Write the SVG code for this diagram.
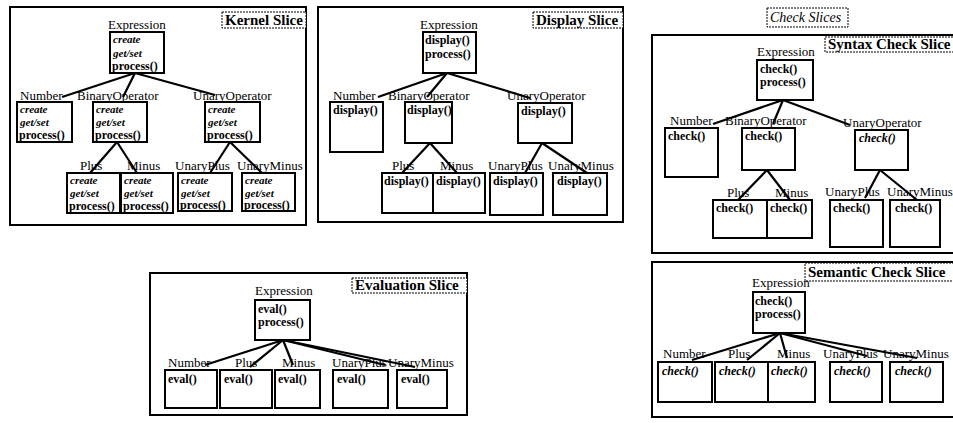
<svg xmlns="http://www.w3.org/2000/svg" width="953" height="423" viewBox="0 0 953 423">
<style>
.frame{fill:none;stroke:#000;stroke-width:2}
.box{fill:#fff;stroke:#000;stroke-width:2}
.tag{fill:#fff;stroke:#000;stroke-width:1;stroke-dasharray:2 1}
.conn line{stroke:#000;stroke-width:2.2}
text{font-family:"Liberation Serif","Times New Roman",serif;fill:#000}
.lbl{font-size:13px}
.m{font-size:12px;font-weight:bold}
.mi{font-size:12px;font-weight:bold;font-style:italic}
.ki{font-size:11px;font-weight:bold;font-style:italic}
.title{font-size:15px;font-weight:bold}
.ititle{font-size:14px;font-style:italic}
</style>
<rect width="953" height="423" fill="#fff"/>

<!-- frames -->
<g id="frames">
<rect class="frame" x="10" y="7" width="296" height="218"/>
<rect class="frame" x="318" y="7" width="305" height="215"/>
<rect class="frame" x="652" y="35" width="310" height="218"/>
<rect class="frame" x="652" y="262" width="310" height="155"/>
<rect class="frame" x="150" y="273" width="317" height="142"/>
</g>

<!-- titles -->
<g id="titles">
<rect class="tag" x="222" y="12" width="84" height="16"/><text class="title" x="225" y="25">Kernel Slice</text>
<rect class="tag" x="533" y="12" width="90" height="16"/><text class="title" x="536" y="25">Display Slice</text>
<rect class="tag" x="767" y="8" width="81" height="19"/><text class="ititle" x="770" y="22">Check Slices</text>
<rect class="tag" x="825" y="37" width="135" height="15"/><text class="title" x="828" y="49">Syntax Check Slice</text>
<rect class="tag" x="805" y="263" width="150" height="18"/><text class="title" x="808" y="277">Semantic Check Slice</text>
<rect class="tag" x="352" y="278" width="115" height="15"/><text class="title" x="355" y="290">Evaluation Slice</text>
</g>

<!-- connectors -->
<g id="connectors" class="conn">
<line x1="135" y1="73" x2="62" y2="97"/>
<line x1="135" y1="73" x2="123" y2="97"/>
<line x1="135" y1="73" x2="215" y2="95"/>
<line x1="117" y1="142" x2="90" y2="173"/>
<line x1="117" y1="142" x2="137" y2="173"/>
<line x1="230" y1="142" x2="210" y2="173"/>
<line x1="230" y1="142" x2="262" y2="173"/>

<line x1="447" y1="73" x2="378" y2="97"/>
<line x1="447" y1="73" x2="427" y2="97"/>
<line x1="447" y1="73" x2="530" y2="98"/>
<line x1="430" y1="143" x2="402" y2="173"/>
<line x1="430" y1="143" x2="457" y2="173"/>
<line x1="542" y1="143" x2="525" y2="173"/>
<line x1="542" y1="143" x2="587" y2="173"/>

<line x1="783" y1="100" x2="713" y2="124"/>
<line x1="783" y1="100" x2="773" y2="124"/>
<line x1="783" y1="100" x2="850" y2="125"/>
<line x1="767" y1="170" x2="738" y2="200"/>
<line x1="767" y1="170" x2="790" y2="200"/>
<line x1="880" y1="170" x2="865" y2="198"/>
<line x1="880" y1="170" x2="917" y2="200"/>

<line x1="780" y1="333" x2="692" y2="360"/>
<line x1="780" y1="333" x2="747" y2="360"/>
<line x1="780" y1="333" x2="787" y2="358"/>
<line x1="780" y1="333" x2="867" y2="356"/>
<line x1="780" y1="333" x2="917" y2="358"/>

<line x1="283" y1="340" x2="205" y2="365"/>
<line x1="283" y1="340" x2="250" y2="367"/>
<line x1="283" y1="340" x2="293" y2="365"/>
<line x1="283" y1="340" x2="385" y2="365"/>
<line x1="283" y1="340" x2="415" y2="367"/>
</g>

<!-- Kernel slice nodes -->
<g id="k-expression"><text class="lbl" x="108" y="29">Expression</text><rect class="box" x="110" y="32" width="54" height="41"/><text class="ki" x="113" y="43">create</text><text class="ki" x="113" y="57">get/set</text><text class="m" x="112" y="70">process()</text></g>
<g id="k-number"><text class="lbl" x="20" y="100">Number</text><rect class="box" x="17" y="102" width="55" height="40"/><text class="ki" x="20" y="113">create</text><text class="ki" x="20" y="126">get/set</text><text class="m" x="19" y="139">process()</text></g>
<g id="k-binary"><text class="lbl" x="77" y="100">BinaryOperator</text><rect class="box" x="93" y="102" width="54" height="40"/><text class="ki" x="96" y="113">create</text><text class="ki" x="96" y="126">get/set</text><text class="m" x="95" y="139">process()</text></g>
<g id="k-unary"><text class="lbl" x="193" y="100">UnaryOperator</text><rect class="box" x="205" y="102" width="55" height="40"/><text class="ki" x="208" y="113">create</text><text class="ki" x="208" y="126">get/set</text><text class="m" x="207" y="139">process()</text></g>
<g id="k-plus"><text class="lbl" x="80" y="170">Plus</text><rect class="box" x="67" y="173" width="53" height="40"/><text class="ki" x="70" y="184">create</text><text class="ki" x="70" y="197">get/set</text><text class="m" x="69" y="210">process()</text></g>
<g id="k-minus"><text class="lbl" x="127" y="170">Minus</text><rect class="box" x="121" y="173" width="52" height="40"/><text class="ki" x="124" y="184">create</text><text class="ki" x="124" y="197">get/set</text><text class="m" x="123" y="210">process()</text></g>
<g id="k-unaryplus"><text class="lbl" x="175" y="170">UnaryPlus</text><rect class="box" x="178" y="173" width="54" height="38"/><text class="ki" x="181" y="184">create</text><text class="ki" x="181" y="197">get/set</text><text class="m" x="180" y="209">process()</text></g>
<g id="k-unaryminus"><text class="lbl" x="237" y="170">UnaryMinus</text><rect class="box" x="242" y="173" width="53" height="38"/><text class="ki" x="245" y="184">create</text><text class="ki" x="245" y="197">get/set</text><text class="m" x="244" y="209">process()</text></g>

<!-- Display slice nodes -->
<g id="d-expression"><text class="lbl" x="420" y="29">Expression</text><rect class="box" x="423" y="32" width="53" height="41"/><text class="m" x="425" y="44">display()</text><text class="m" x="425" y="58">process()</text></g>
<g id="d-number"><text class="lbl" x="333" y="100">Number</text><rect class="box" x="330" y="102" width="53" height="50"/><text class="m" x="333" y="114">display()</text></g>
<g id="d-binary"><text class="lbl" x="388" y="100">BinaryOperator</text><rect class="box" x="405" y="102" width="47" height="41"/><text class="m" x="407" y="114">display()</text></g>
<g id="d-unary"><text class="lbl" x="507" y="100">UnaryOperator</text><rect class="box" x="518" y="103" width="54" height="40"/><text class="m" x="521" y="115">display()</text></g>
<g id="d-plus"><text class="lbl" x="392" y="170">Plus</text><rect class="box" x="382" y="173" width="51" height="40"/><text class="m" x="384" y="185">display()</text></g>
<g id="d-minus"><text class="lbl" x="440" y="170">Minus</text><rect class="box" x="433" y="173" width="52" height="40"/><text class="m" x="436" y="185">display()</text></g>
<g id="d-unaryplus"><text class="lbl" x="488" y="170">UnaryPlus</text><rect class="box" x="490" y="173" width="53" height="42"/><text class="m" x="493" y="185">display()</text></g>
<g id="d-unaryminus"><text class="lbl" x="548" y="170">UnaryMinus</text><rect class="box" x="553" y="173" width="54" height="42"/><text class="m" x="557" y="185">display()</text></g>

<!-- Syntax check slice nodes -->
<g id="s-expression"><text class="lbl" x="757" y="56">Expression</text><rect class="box" x="757" y="60" width="56" height="40"/><text class="m" x="760" y="73">check()</text><text class="m" x="760" y="86">process()</text></g>
<g id="s-number"><text class="lbl" x="670" y="125">Number</text><rect class="box" x="665" y="128" width="53" height="49"/><text class="m" x="668" y="140">check()</text></g>
<g id="s-binary"><text class="lbl" x="725" y="125">BinaryOperator</text><rect class="box" x="742" y="128" width="53" height="42"/><text class="m" x="745" y="140">check()</text></g>
<g id="s-unary"><text class="lbl" x="843" y="127">UnaryOperator</text><rect class="box" x="855" y="130" width="53" height="40"/><text class="mi" x="859" y="142">check()</text></g>
<g id="s-plus"><text class="lbl" x="727" y="197">Plus</text><rect class="box" x="713" y="200" width="54" height="38"/><text class="m" x="716" y="212">check()</text></g>
<g id="s-minus"><text class="lbl" x="775" y="197">Minus</text><rect class="box" x="767" y="200" width="45" height="38"/><text class="m" x="770" y="212">check()</text></g>
<g id="s-unaryplus"><text class="lbl" x="825" y="196">UnaryPlus</text><rect class="box" x="830" y="200" width="53" height="47"/><text class="m" x="833" y="212">check()</text></g>
<g id="s-unaryminus"><text class="lbl" x="887" y="196">UnaryMinus</text><rect class="box" x="890" y="200" width="50" height="47"/><text class="m" x="895" y="212">check()</text></g>

<!-- Semantic check slice nodes -->
<g id="m-expression"><text class="lbl" x="752" y="287">Expression</text><rect class="box" x="753" y="292" width="52" height="41"/><text class="m" x="755" y="305">check()</text><text class="m" x="755" y="318">process()</text></g>
<g id="m-number"><text class="lbl" x="663" y="358">Number</text><rect class="box" x="658" y="362" width="54" height="40"/><text class="mi" x="662" y="375">check()</text></g>
<g id="m-plus"><text class="lbl" x="728" y="358">Plus</text><rect class="box" x="715" y="362" width="53" height="40"/><text class="mi" x="719" y="375">check()</text></g>
<g id="m-minus"><text class="lbl" x="777" y="358">Minus</text><rect class="box" x="768" y="362" width="47" height="40"/><text class="mi" x="771" y="375">check()</text></g>
<g id="m-unaryplus"><text class="lbl" x="823" y="358">UnaryPlus</text><rect class="box" x="830" y="362" width="52" height="40"/><text class="mi" x="834" y="375">check()</text></g>
<g id="m-unaryminus"><text class="lbl" x="883" y="358">UnaryMinus</text><rect class="box" x="890" y="362" width="53" height="40"/><text class="mi" x="895" y="375">check()</text></g>

<!-- Evaluation slice nodes -->
<g id="e-expression"><text class="lbl" x="255" y="295">Expression</text><rect class="box" x="255" y="300" width="55" height="40"/><text class="m" x="258" y="313">eval()</text><text class="m" x="258" y="326">process()</text></g>
<g id="e-number"><text class="lbl" x="168" y="367">Number</text><rect class="box" x="165" y="370" width="52" height="38"/><text class="m" x="168" y="383">eval()</text></g>
<g id="e-plus"><text class="lbl" x="235" y="367">Plus</text><rect class="box" x="220" y="370" width="52" height="38"/><text class="m" x="224" y="383">eval()</text></g>
<g id="e-minus"><text class="lbl" x="282" y="367">Minus</text><rect class="box" x="275" y="370" width="45" height="38"/><text class="m" x="278" y="383">eval()</text></g>
<g id="e-unaryplus"><text class="lbl" x="332" y="367">UnaryPlus</text><rect class="box" x="333" y="370" width="55" height="38"/><text class="m" x="337" y="383">eval()</text></g>
<g id="e-unaryminus"><text class="lbl" x="388" y="367">UnaryMinus</text><rect class="box" x="397" y="370" width="50" height="38"/><text class="m" x="401" y="383">eval()</text></g>
</svg>
